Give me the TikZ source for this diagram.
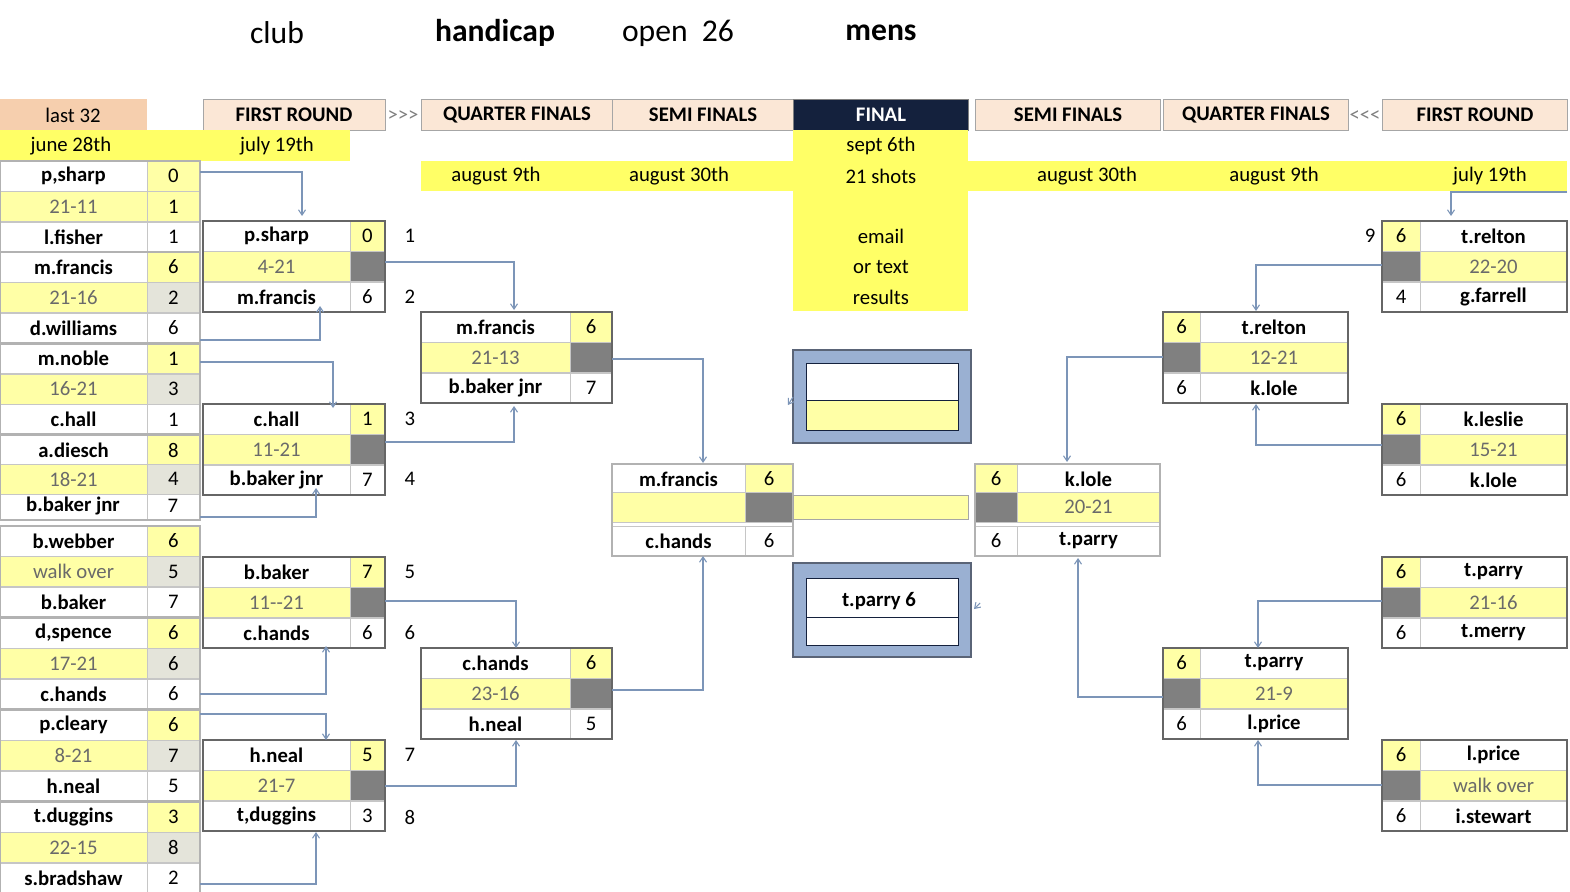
\documentclass[tikz,border=0pt]{standalone}
\usepackage{fontspec}
\setmainfont{Carlito}
\usetikzlibrary{arrows.meta}
\definecolor{pyel}{HTML}{FFFFA6}
\definecolor{byel}{HTML}{FFFF66}
\definecolor{peach}{HTML}{FBE7D6}
\definecolor{dpeach}{HTML}{F6CFAE}
\definecolor{gcell}{HTML}{808080}
\definecolor{lgcell}{HTML}{E4E4DA}
\definecolor{navy}{HTML}{14213D}
\definecolor{lnk}{HTML}{7C95B8}
\definecolor{bxblue}{HTML}{9AB0D2}
\definecolor{sgray}{HTML}{6A6A6A}
\tikzset{
  cellb/.style={draw=gray!45,line width=0.5pt},
  grp/.style={draw=gray!80!black,line width=1.1pt},
  nm/.style={font=\bfseries\fontsize{11.8}{13}\selectfont},
  sc/.style={font=\fontsize{11.8}{13}\selectfont,text=sgray},
  num/.style={font=\fontsize{11.8}{13}\selectfont},
  hd/.style={font=\bfseries\fontsize{11.8}{13}\selectfont},
  dt/.style={font=\fontsize{11.8}{13}\selectfont},
  link/.style={draw=lnk,line width=0.6pt,-{Straight Barb[length=3pt,width=4pt]}},
}
\newcommand\cel[6]{\path[cellb,fill=#4] (#1,#3-15) rectangle (#2,#3+15);
  \node[#6] at ({(#1+#2)/2},#3) {#5};}
\newcommand\grpL[9]{%
  \cel{#1}{#2}{#4}{white}{#5}{nm}\cel{#2}{#3}{#4}{pyel}{#6}{num}
  \cel{#1}{#2}{#4+30.5}{pyel}{#7}{sc}\cel{#2}{#3}{#4+30.5}{gcell}{}{num}
  \cel{#1}{#2}{#4+61}{white}{#8}{nm}\cel{#2}{#3}{#4+61}{white}{#9}{num}
  \draw[grp] (#1,#4-15) rectangle (#3,#4+76);}
\newcommand\grpR[9]{%
  \cel{#1}{#2}{#4}{pyel}{#5}{num}\cel{#2}{#3}{#4}{white}{#6}{nm}
  \cel{#1}{#2}{#4+30.5}{gcell}{}{num}\cel{#2}{#3}{#4+30.5}{pyel}{#7}{sc}
  \cel{#1}{#2}{#4+61}{white}{#8}{num}\cel{#2}{#3}{#4+61}{white}{#9}{nm}
  \draw[grp] (#1,#4-15) rectangle (#3,#4+76);}
\newcommand\lastL[8]{%
  \cel{0}{147}{#1}{white}{#2}{nm}\cel{147}{200}{#1}{pyel}{#3}{num}
  \cel{0}{147}{#1+30.5}{pyel}{#4}{sc}\cel{147}{200}{#1+30.5}{#8}{#5}{num}
  \cel{0}{147}{#1+61}{white}{#6}{nm}\cel{147}{200}{#1+61}{white}{#7}{num}
  \draw[draw=gray!60,line width=1.2pt] (0,#1-15) rectangle (200,#1+76);}
\begin{document}
\begin{tikzpicture}[x=0.02cm,y=-0.02cm]
\useasboundingbox[fill=white] (0,0) rectangle (1570,892);
\node[font=\fontsize{18}{20}\selectfont] (t1) at (277,33) {club};
\node[font=\bfseries\fontsize{18}{20}\selectfont] (t2) at (495,33) {handicap};
\node[font=\fontsize{18}{20}\selectfont] (t3) at (678,33) {open\ \ 26};
\node[font=\bfseries\fontsize{18}{20}\selectfont] (t4) at (881,33) {mens};
\path[fill=dpeach] (0,99) rectangle (147,130); \node[dt] (h0) at (73,115) {last 32};
\path[fill=peach,draw=gray!70] (203,99) rectangle (385,130); \node[hd] (h1) at (294,115) {FIRST ROUND};
\node[dt,text=gray] (g1) at (403,116) {{>}{>}{>}};
\path[fill=peach,draw=gray!70] (421,99) rectangle (612,130); \node[hd] (h2) at (517,115) {QUARTER FINALS};
\path[fill=peach,draw=gray!70] (612,99) rectangle (793,130); \node[hd] (h3) at (703,115) {SEMI FINALS};
\path[fill=navy,draw=gray] (793,99) rectangle (968,130); \node[hd,text=white] (h4) at (881,115) {FINAL};
\path[fill=peach,draw=gray!70] (975,99) rectangle (1160,130); \node[hd] (h5) at (1068,115) {SEMI FINALS};
\path[fill=peach,draw=gray!70] (1163,99) rectangle (1348,130); \node[hd] (h6) at (1256,115) {QUARTER FINALS};
\node[dt,text=gray] (g2) at (1365,116) {{<}{<}{<}};
\path[fill=peach,draw=gray!70] (1382,99) rectangle (1567,130); \node[hd] (h7) at (1475,115) {FIRST ROUND};
\path[fill=byel] (0,130) rectangle (350,161);
\node[dt] (d1) at (71,146) {june 28th}; \node[dt] (d2) at (277,146) {july 19th};
\path[fill=byel] (421,161) rectangle (793,191);
\path[fill=byel] (968,161) rectangle (1567,191);
\node[dt] (d3) at (496,176) {august 9th}; \node[dt] (d4) at (679,176) {august 30th};
\node[dt] (d5) at (1087,176) {august 30th}; \node[dt] (d6) at (1274,176) {august 9th};
\node[dt] (d7) at (1490,176) {july 19th};
\path[fill=byel] (793,130) rectangle (968,311);
\node[dt] (f1) at (881,146) {sept 6th}; \node[dt] (f2) at (881,176) {21 shots};
\node[dt] (f3) at (881,236) {email}; \node[dt] (f4) at (881,267) {or text}; \node[dt] (f5) at (881,297) {results};
\lastL{176}{p,sharp}{0}{21-11}{1}{l.fisher}{1}{pyel}
\lastL{267}{m.francis}{6}{21-16}{2}{d.williams}{6}{lgcell}
\lastL{358.5}{m.noble}{1}{16-21}{3}{c.hall}{1}{lgcell}
\cel{0}{147}{450}{white}{a.diesch}{nm}\cel{147}{200}{450}{pyel}{8}{num}
\cel{0}{147}{479}{pyel}{18-21}{sc}\cel{147}{200}{479}{lgcell}{4}{num}
\path[cellb] (0,494) rectangle (147,520) (147,494) rectangle (200,520);
\node[nm] (bbj) at (73,506) {b.baker jnr}; \node[num] at (173,506) {7};
\draw[draw=gray!60,line width=1.2pt] (0,435) rectangle (200,520);
\lastL{541}{b.webber}{6}{walk over}{5}{b.baker}{7}{lgcell}
\lastL{633}{d,spence}{6}{17-21}{6}{c.hands}{6}{lgcell}
\lastL{725}{p.cleary}{6}{8-21}{7}{h.neal}{5}{lgcell}
\lastL{817}{t.duggins}{3}{22-15}{8}{s.bradshaw}{2}{lgcell}
\grpL{203}{350}{385}{236}{p.sharp}{0}{4-21}{m.francis}{6}
\grpL{203}{350}{385}{419}{c.hall}{1}{11-21}{b.baker jnr}{7}
\grpL{203}{350}{385}{572}{b.baker}{7}{11-{}-21}{c.hands}{6}
\grpL{203}{350}{385}{755}{h.neal}{5}{21-7}{t,duggins}{3}
\foreach \y/\t in {236/1,297/2,419/3,479/4,572/5,633/6,755/7,817/8}{\node[num] at (410,\y) {\t};}
\grpL{421}{570}{612}{327}{m.francis}{6}{21-13}{b.baker jnr}{7}
\grpL{421}{570}{612}{663}{c.hands}{6}{23-16}{h.neal}{5}
\cel{612}{745}{479}{white}{m.francis}{nm}\cel{745}{793}{479}{pyel}{6}{num}
\cel{612}{745}{507}{pyel}{}{sc}\cel{745}{793}{507}{gcell}{}{num}
\cel{612}{745}{541}{white}{c.hands}{nm}\cel{745}{793}{541}{white}{6}{num}
\draw[grp,draw=gray!60] (612,464) rectangle (793,556);
\path[fill=pyel,draw=gray!70] (793,495) rectangle (968,519);
\path[fill=bxblue,draw=navy!70,line width=0.8pt] (793,350) rectangle (971,443);
\path[fill=white,draw=navy] (806,363) rectangle (958,400);
\path[fill=pyel,draw=navy] (806,400) rectangle (958,430);
\path[fill=bxblue,draw=navy!70,line width=0.8pt] (793,563) rectangle (971,657);
\path[fill=white,draw=navy] (806,578) rectangle (958,645);
\draw[navy] (806,617) -- (958,617);
\node[nm] (win) at (879,601) {t.parry 6};
\cel{975}{1017}{479}{pyel}{6}{num}\cel{1017}{1160}{479}{white}{k.lole}{nm}
\cel{975}{1017}{507}{gcell}{}{num}\cel{1017}{1160}{507}{pyel}{20-21}{sc}
\cel{975}{1017}{541}{white}{6}{num}\cel{1017}{1160}{541}{white}{t.parry}{nm}
\draw[grp,draw=gray!60] (975,464) rectangle (1160,556);
\grpR{1163}{1200}{1348}{327}{6}{t.relton}{12-21}{6}{k.lole}
\grpR{1163}{1200}{1348}{663}{6}{t.parry}{21-9}{6}{l.price}
\grpR{1382}{1420}{1567}{236}{6}{t.relton}{22-20}{4}{g.farrell}
\grpR{1382}{1420}{1567}{419}{6}{k.leslie}{15-21}{6}{k.lole}
\grpR{1382}{1420}{1567}{572}{6}{t.parry}{21-16}{6}{t.merry}
\grpR{1382}{1420}{1567}{755}{6}{l.price}{walk over}{6}{i.stewart}
\node[num] (nine) at (1370,236) {9};
\draw[link] (200,172) -| (302,216);
\draw[link] (200,340) -| (320,306);
\draw[link] (200,362) -| (333,408);
\draw[link] (200,517) -| (316,488);
\draw[link] (200,694) -| (326,646);
\draw[link] (200,714) -| (326,740);
\draw[link] (200,884) -| (316,832);
\draw[link] (385,262) -| (514,310);
\draw[link] (385,442) -| (514,406);
\draw[link] (385,601) -| (516,648);
\draw[link] (385,786) -| (516,740);
\draw[link] (612,359) -| (703,463);
\draw[link] (612,690) -| (703,556);
\draw[link] (793,397) -- (788,405);
\draw[link] (980,603) -- (974,609);
\draw[link] (1567,192) -| (1451,216);
\draw[link] (1382,265) -| (1256,311);
\draw[link] (1382,445) -| (1256,404);
\draw[link] (1382,601) -| (1258,648);
\draw[link] (1382,785) -| (1258,740);
\draw[link] (1163,357) -| (1067,462);
\draw[link] (1163,697) -| (1078,558);
\end{tikzpicture}
\end{document}
